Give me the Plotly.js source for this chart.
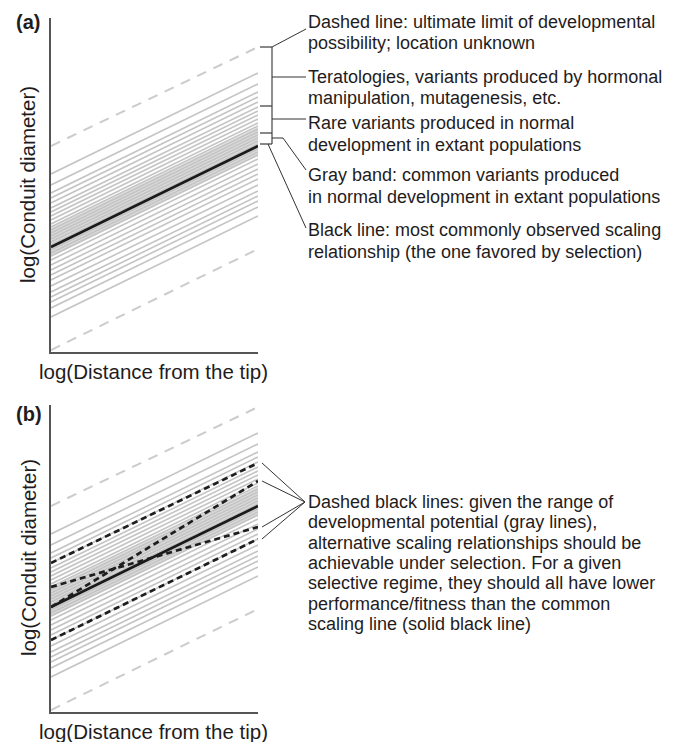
<!DOCTYPE html>
<html>
<head>
<meta charset="utf-8">
<script src="https://cdn.plot.ly/plotly-3.0.1.min.js"></script>
<style>
html,body{margin:0;padding:0;background:#fff;}
#chart{width:678px;height:742px;}
</style>
</head>
<body>
<div id="chart"></div>
<script>
// ---------------- data (log units, arbitrary; x: 0 = tip side, 1 = far end) ----------------
const xEnds = [0, 1];

// gray solid lines: value at left end and right end
const grayStart = [178, 167, 159, 154, 149, 144, 140, 136, 132, 128,
                   125, 122, 119, 116, 113, 110, 107, 102, 99, 96,
                   92, 87, 82, 77, 72, 66, 60, 55, 50, 44, 35];
const grayEnd   = [279, 268, 260, 255, 250, 245, 241, 237, 233, 229,
                   226, 223, 220, 217, 214, 211, 208, 203, 200, 197,
                   193, 188, 183, 178, 173, 167, 161, 156, 151, 145, 136];

// gray band of common variants (lower / upper edge at each end)
const bandLow = [95, 196];
const bandHigh = [124, 225];

// dashed gray limits of developmental possibility
const limitUpper = [206, 305];
const limitLower = [2, 103];

// common scaling relationship (black line)
const commonLine = [105, 206];

// panel (b): alternative scaling relationships (dashed black)
const altA = [149, 249];
const altB = [105, 231];
const altC = [125, 185];
const altD = [72, 173];
const altLines = [altA, altB, altC, altD];

// bracket boundaries in panel (a) (values at the right end)
const bracketBounds = [305, 246, 219, 208];

// texts
const labelA = "(a)";
const labelB = "(b)";
const yTitle = "log(Conduit diameter)";
const xTitle = "log(Distance from the tip)";
const notesA = [
  ["Dashed line: ultimate limit of developmental", "possibility; location unknown"],
  ["Teratologies, variants produced by hormonal", "manipulation, mutagenesis, etc."],
  ["Rare variants produced in normal", "development in extant populations"],
  ["Gray band: common variants produced", "in normal development in extant populations"],
  ["Black line: most commonly observed scaling", "relationship (the one favored by selection)"]
];
const notesB = [
  "Dashed black lines: given the range of",
  "developmental potential (gray lines),",
  "alternative scaling relationships should be",
  "achievable under selection. For a given",
  "selective regime, they should all have lower",
  "performance/fitness than the common",
  "scaling line (solid black line)"
];

// ---------------- layout geometry ----------------
const W = 678, H = 742;
const X = p => p / W;
const Y = p => 1 - p / H;
const xDomain = [X(51), X(258)];
const domA = [Y(352), Y(18)];
const domB = [Y(712), Y(405)];
const rangeA = [0, 334];
const rangeB = [0, 307];
const toPaperY = (v, dom, rng) => dom[0] + (v - rng[0]) / (rng[1] - rng[0]) * (dom[1] - dom[0]);

const FONT = "Liberation Sans, Arial, Helvetica, sans-serif";
const TXT = "#1f1c1d";
const GRAY = "#c4c4c4";

function panelTraces(xa, ya, withAlt) {
  const tr = [];
  tr.push({x: [0, 1, 1, 0, 0], y: [bandLow[0], bandLow[1], bandHigh[1], bandHigh[0], bandLow[0]],
    xaxis: xa, yaxis: ya, mode: "lines", fill: "toself", fillcolor: "#dcdcdc",
    line: {width: 0, color: "rgba(0,0,0,0)"}, hoverinfo: "skip", showlegend: false});
  const gx = [], gy = [];
  for (let i = 0; i < grayStart.length; i++) {
    gx.push(xEnds[0], xEnds[1], null);
    gy.push(grayStart[i], grayEnd[i], null);
  }
  tr.push({x: gx, y: gy, xaxis: xa, yaxis: ya, mode: "lines",
    line: {color: GRAY, width: 1.6}, hoverinfo: "skip", showlegend: false});
  tr.push({x: [0, 1, null, 0, 1], y: [limitUpper[0], limitUpper[1], null, limitLower[0], limitLower[1]],
    xaxis: xa, yaxis: ya, mode: "lines",
    line: {color: "#cbcbcb", width: 2, dash: "10px,8px"}, hoverinfo: "skip", showlegend: false});
  tr.push({x: xEnds, y: commonLine, xaxis: xa, yaxis: ya, mode: "lines",
    line: {color: "#1a1a1a", width: 2.7}, hoverinfo: "skip", showlegend: false});
  if (withAlt) {
    altLines.forEach(l => tr.push({x: xEnds, y: l, xaxis: xa, yaxis: ya, mode: "lines",
      line: {color: "#1e1e1e", width: 2.7, dash: "6px,4px"}, hoverinfo: "skip", showlegend: false}));
  }
  return tr;
}

const data = [].concat(panelTraces("x", "y", false), panelTraces("x2", "y2", true));

const axisCommon = {showline: true, linecolor: "#555", linewidth: 2, showticklabels: false,
  ticks: "", showgrid: false, zeroline: false, fixedrange: true};

const annotations = [];
const ann = (txt, x, y, opts) => annotations.push(Object.assign({
  text: txt, x: x, y: y, xref: "paper", yref: "paper", showarrow: false,
  xanchor: "left", yanchor: "middle", align: "left",
  font: {family: FONT, size: 18, color: TXT}}, opts || {}));

ann(labelA, X(14), Y(22), {font: {family: FONT, size: 20, color: TXT, weight: "bold"}});
ann(labelB, X(14), Y(414), {font: {family: FONT, size: 20, color: TXT, weight: "bold"}});
ann(yTitle, X(28), Y(185), {xanchor: "center", textangle: -90, font: {family: FONT, size: 20.5, color: TXT}});
ann(yTitle, X(28), Y(558), {xanchor: "center", textangle: -90, font: {family: FONT, size: 20.5, color: TXT}});
ann(xTitle, X(153), Y(371), {xanchor: "center", font: {family: FONT, size: 20.5, color: TXT}});
ann(xTitle, X(153), Y(731), {xanchor: "center", font: {family: FONT, size: 20.5, color: TXT}});

const linesA = [22, 43, 77, 98, 123, 145, 175, 197, 230, 252];
let k = 0;
notesA.forEach(pair => pair.forEach(t => { ann(t, X(306), Y(linesA[k])); k++; }));
notesB.forEach((t, i) => ann(t, X(306), Y(502 + 20.3 * i)));

const shapes = [];
const seg = (x0, y0, x1, y1, color, w) => shapes.push({type: "line", xref: "paper", yref: "paper",
  x0: x0, y0: y0, x1: x1, y1: y1, line: {color: color || "#333", width: w || 1}});

const bY = bracketBounds.map(v => toPaperY(v, domA, rangeA));
bY.forEach(y => seg(X(260), y, X(272), y, "#888", 2));
seg(X(272), bY[0], X(272), bY[3], "#444", 1.2);
seg(X(272), bY[0], X(306), Y(29), "#333", 1);
seg(X(272), Y(77), X(306), Y(77), "#333", 1);
seg(X(272), Y(119), X(306), Y(119), "#333", 1);
seg(X(272), Y(138), X(283), Y(138), "#333", 1);
seg(X(283), Y(138), X(306), Y(170), "#333", 1);
seg(X(268), bY[3], X(306), Y(228), "#333", 1);
altLines.forEach(l => {
  const y = toPaperY(l[1], domB, rangeB);
  seg(X(262), y, X(305), Y(502), "#333", 1);
});

const layout = {
  width: W, height: H, margin: {l: 0, r: 0, t: 0, b: 0},
  paper_bgcolor: "#fff", plot_bgcolor: "rgba(0,0,0,0)", showlegend: false,
  xaxis: Object.assign({}, axisCommon, {domain: xDomain, range: [0, 1], anchor: "y"}),
  yaxis: Object.assign({}, axisCommon, {domain: domA, range: rangeA, anchor: "x"}),
  xaxis2: Object.assign({}, axisCommon, {domain: xDomain, range: [0, 1], anchor: "y2"}),
  yaxis2: Object.assign({}, axisCommon, {domain: domB, range: rangeB, anchor: "x2"}),
  annotations: annotations, shapes: shapes
};

Plotly.newPlot("chart", data, layout, {staticPlot: true, displayModeBar: false});
</script>
</body>
</html>
